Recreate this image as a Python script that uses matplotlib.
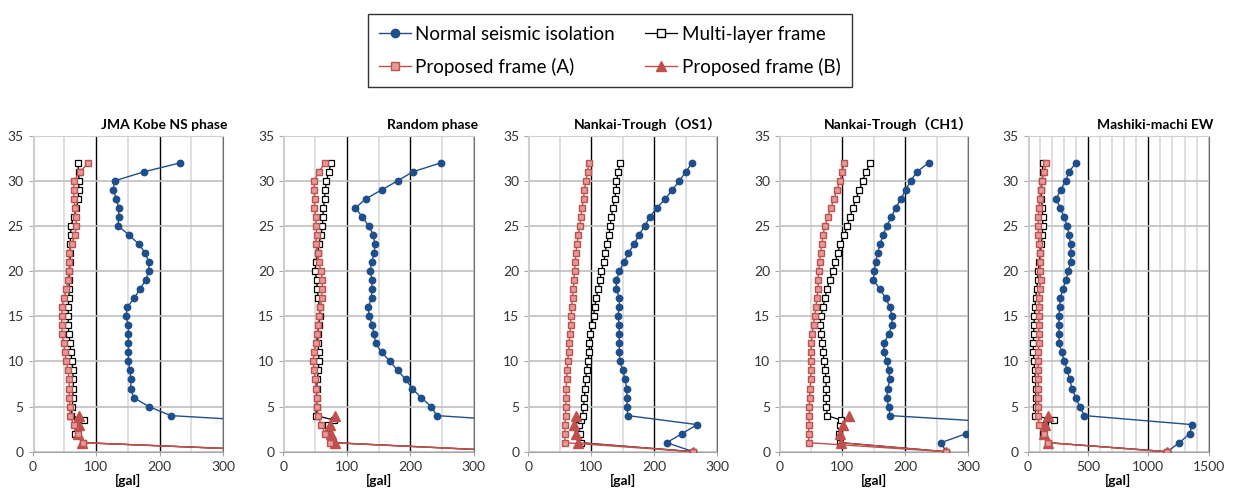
import matplotlib
matplotlib.use("Agg")
import matplotlib.pyplot as plt
from matplotlib.ticker import MultipleLocator

plt.rcParams['font.family'] = ['Lato', 'Noto Sans CJK JP', 'DejaVu Sans']

# floors (0 = ground input)
floors = list(range(0, 33))
floors_multi = [0, 1, 2, 3, 3.5] + list(range(4, 33))
floors_b = [0, 1, 2, 3, 4]

titles = ["JMA Kobe NS phase", "Random phase", "Nankai-Trough（OS1）",
          "Nankai-Trough（CH1）", "Mashiki-machi EW"]
xmax = [300, 300, 300, 300, 1500]

# JMA Kobe NS phase
kobe_normal = [430, 470, 480, 460, 217.5, 183, 159, 154.5, 155, 153, 151, 151, 151, 151, 151, 147,
               149, 160, 169, 178, 183, 183, 177.6, 167, 152, 134.5, 135.6, 135.6, 132, 127, 129, 175.5, 233]
kobe_multi = [430, 79, 67, 70, 81, 61, 62.5, 63, 64, 64, 63, 62, 60, 59, 57, 56, 56, 56, 57, 58, 57,
              58, 59, 59, 59, 60, 60, 65, 69, 72, 72.5, 73, 72.5, 71]
kobe_a = [430, 79, 71, 64.6, 59, 58.3, 57.4, 57.4, 57.4, 55.7, 53, 51, 49, 46, 46, 45.7, 46, 49.4, 53,
          55.7, 57.4, 58, 57, 62, 66, 69, 68, 66.7, 65, 64.6, 65, 74.6, 87.8]
kobe_b = [430, 77, 71, 72.5, 73.6]

# Random phase
rand_normal = [377, 440, 470, 454, 242, 233, 217, 203, 193, 180, 168, 155, 145.6, 143, 140, 135.6,
               133.5, 139, 139, 140, 137, 139, 143.5, 144, 142, 134.5, 124.5, 113.5, 130, 155, 180, 204, 248.6]
rand_multi = [377, 79, 72.5, 70, 80.4, 51.5, 52.5, 52.5, 52.5, 53.6, 55, 56, 55.7, 54.6, 54, 55.7, 57.8,
              57, 55, 53.6, 52.5, 50.4, 51, 54.6, 56, 59.4, 61.5, 62.5, 63, 65, 66, 68, 71.5, 75.7]
rand_a = [377, 73.6, 66, 59.4, 55, 52.5, 52.5, 52, 50, 48.3, 46.8, 48.3, 51, 53.6, 55, 56.8, 58.3, 60.4,
          61.5, 61.5, 59.4, 56, 54, 51, 52.5, 52, 51, 48.9, 49.4, 48.9, 48.3, 56, 65.7]
rand_b = [377, 80.9, 74.6, 73.6, 81.5]

# Nankai-Trough (OS1)
os1_normal = [262, 219.6, 244, 268, 157.7, 157, 156.6, 156, 154, 149.7, 145.5, 144.4, 144.4, 144.4, 144.4,
              142.3, 144.4, 144.4, 140, 139.7, 144.4, 152, 159, 168, 175.7, 184.7, 193, 204, 217.5, 228.6,
              239.7, 250, 260]
os1_multi = [262, 84, 82, 80.4, 84, 86.2, 87.8, 88.9, 90, 91, 92.6, 94.2, 96.8, 96.8, 98.4, 100.5, 103.7,
             105.3, 108, 110.6, 113.8, 115.9, 120, 122, 124.3, 128, 130, 131.7, 134.4, 137, 139.7, 140, 143, 145.5]
os1_a = [262, 58.2, 58.2, 58.2, 59.3, 59.3, 59.8, 60.3, 60.8, 61.9, 62.4, 64, 64.6, 66.1, 67.2, 67.7, 68.8,
         70.4, 71.4, 72.5, 73.5, 74.6, 75.7, 77.2, 79.4, 81.5, 83.6, 85.2, 87.8, 88.9, 91.5, 94.2, 95.8]
os1_b = [262, 78.3, 75, 72, 75.7]

# Nankai-Trough (CH1)
ch1_normal = [265, 256.6, 296.8, 411, 176, 173.5, 170.4, 172, 175.7, 173.5, 171, 166, 166, 173.5, 178.8,
              178.8, 175.7, 168.8, 159.8, 149.2, 150.8, 152.9, 156, 159.8, 165, 170.4, 177.8, 184.7, 193,
              200.5, 208.5, 218.5, 237]
ch1_multi = [265, 97, 94, 96, 98, 76.2, 74.6, 74.6, 74.6, 74, 73, 70.9, 69.8, 68.3, 66.1, 65, 66.1, 69.3,
             72.5, 75.7, 79.9, 84.7, 88.9, 92.6, 96.8, 103, 108, 112, 117, 121.7, 127, 132.3, 137.6, 144.4]
ch1_a = [265, 46.6, 46.6, 46.6, 47.6, 47.6, 48.1, 48.7, 50.3, 49.7, 49.7, 50.3, 50.8, 51.9, 54.5, 56, 58.2,
         59.8, 61.4, 61.9, 62.4, 64, 65.6, 67.7, 69.3, 72.5, 76.7, 82, 86.8, 91.5, 96.3, 100, 103]
ch1_b = [265, 98, 96.3, 101.5, 110.6]

# Mashiki-machi EW
mash_normal = [1155, 1257, 1343, 1362, 470, 431, 398, 367, 348, 329, 304, 282, 262, 260, 257, 260, 265,
               271, 290, 318, 337, 356, 359, 356, 342, 329, 301, 268, 237, 273, 315, 342, 400]
mash_multi = [1155, 170, 130, 140, 215, 64, 66, 66, 66, 64, 58, 52, 47, 47, 50, 52, 55, 61, 66, 75, 83, 86,
              97, 105, 113, 122, 124, 124, 122, 113, 110, 122, 124, 124]
mash_a = [1155, 171, 133, 91, 88, 88, 88, 88, 88, 88, 88, 88, 91, 91, 91, 94, 94, 94, 99, 108, 102, 105,
          105, 94, 88, 88, 88, 91, 102, 108, 116, 135, 155]
mash_b = [1155, 166, 138, 146, 171]

normal = [kobe_normal, rand_normal, os1_normal, ch1_normal, mash_normal]
multi = [kobe_multi, rand_multi, os1_multi, ch1_multi, mash_multi]
prop_a = [kobe_a, rand_a, os1_a, ch1_a, mash_a]
prop_b = [kobe_b, rand_b, os1_b, ch1_b, mash_b]

blue = '#1F4E8C'
red = '#C0504D'
pink = '#E39B99'

fig = plt.figure(figsize=(12.34, 4.92), dpi=100)
lefts = [0.0265, 0.2296, 0.4281, 0.6315, 0.8328]
widths = [0.1542, 0.1543, 0.1532, 0.1532, 0.1467]

for i in range(5):
    ax = fig.add_axes([lefts[i], 0.0819, widths[i], 0.6423])
    ax.plot(normal[i], floors, color=blue, lw=1, marker='o', ms=4.6, mfc=blue, mec=blue, zorder=3)
    ax.plot(multi[i], floors_multi, color='black', lw=0.9, marker='s', ms=5, mfc='white',
            mec='black', mew=0.9, zorder=4)
    ax.plot(prop_b[i], floors_b, color=red, lw=1, marker='^', ms=6.5, mfc=red, mec=red, zorder=5)
    ax.plot(prop_a[i], floors, color=red, lw=1, marker='s', ms=5, mfc=pink, mec=red, mew=1, zorder=6)

    ax.set_xlim(0, xmax[i])
    ax.set_ylim(0, 35)
    ax.yaxis.set_major_locator(MultipleLocator(5))
    if xmax[i] == 300:
        ax.xaxis.set_major_locator(MultipleLocator(100))
        ax.xaxis.set_minor_locator(MultipleLocator(50))
    else:
        ax.xaxis.set_major_locator(MultipleLocator(500))
        ax.xaxis.set_minor_locator(MultipleLocator(100))
    ax.grid(which='major', axis='x', color='black', lw=1, zorder=1)
    ax.grid(which='minor', axis='x', color='#D9D9D9', lw=1.2, zorder=0)
    ax.grid(which='major', axis='y', color='#BFBFBF', lw=1.2, zorder=1)
    ax.set_axisbelow(True)
    for side in ['left', 'top']:
        ax.spines[side].set_color('#D0D0D0')
    ax.spines['right'].set_color('#6E6E6E')
    ax.spines['bottom'].set_color('#A6A6A6')
    ax.tick_params(axis='both', which='major', labelsize=10, length=3, color='#A6A6A6',
                   labelcolor='#333333')
    ax.tick_params(axis='x', which='minor', length=0)
    ax.set_xlabel('[gal]', fontsize=10, fontweight='bold', labelpad=1)
    ax.text(1.025, 1.015, titles[i], transform=ax.transAxes, ha='right', va='bottom',
            fontsize=10, fontweight='bold')

handles = [
    plt.Line2D([], [], color=blue, lw=1, marker='o', ms=6, mfc=blue, mec=blue),
    plt.Line2D([], [], color=red, lw=1, marker='s', ms=6, mfc=pink, mec=red),
    plt.Line2D([], [], color='black', lw=0.9, marker='s', ms=6, mfc='white', mec='black'),
    plt.Line2D([], [], color=red, lw=1, marker='^', ms=7, mfc=red, mec=red),
]
labels = ['Normal seismic isolation', 'Proposed frame (A)', 'Multi-layer frame', 'Proposed frame (B)']
leg = fig.legend(handles, labels, loc='upper center', bbox_to_anchor=(0.494, 0.99), ncol=2,
                 fontsize=13.5, frameon=True, fancybox=False, edgecolor='black', handlelength=1.7,
                 handletextpad=0.25, columnspacing=1.6, borderpad=0.6, labelspacing=0.8)
leg.get_frame().set_linewidth(1)

fig.savefig('out.png', dpi=100)
